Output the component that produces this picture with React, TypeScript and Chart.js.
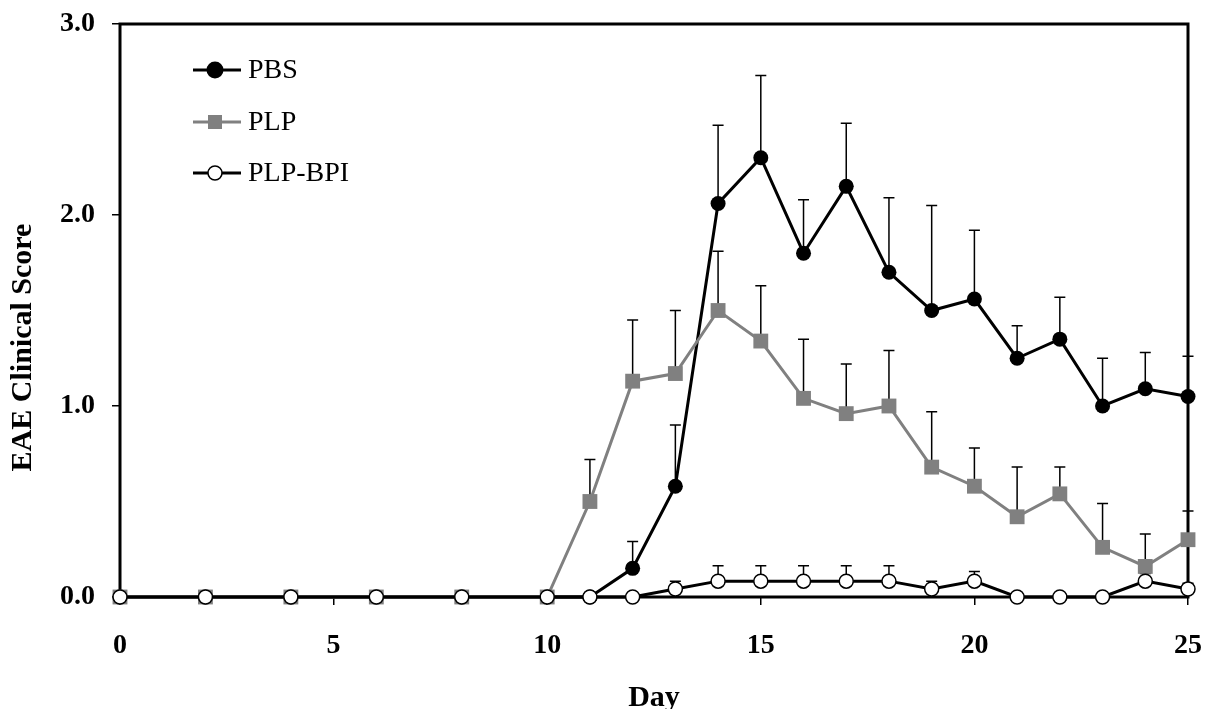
import React, { useEffect, useRef } from 'react';
import { Chart, registerables } from 'chart.js';

Chart.register(...registerables);

const days = [0, 2, 4, 6, 8, 10, 11, 12, 13, 14, 15, 16, 17, 18, 19, 20, 21, 22, 23, 24, 25];
const pbsMean = [0, 0, 0, 0, 0, 0, 0, 0.15, 0.58, 2.06, 2.30, 1.80, 2.15, 1.70, 1.50, 1.56, 1.25, 1.35, 1.00, 1.09, 1.05];
const pbsErr = [0, 0, 0, 0, 0, 0, 0, 0.14, 0.32, 0.41, 0.43, 0.28, 0.33, 0.39, 0.55, 0.36, 0.17, 0.22, 0.25, 0.19, 0.21];
const plpMean = [0, 0, 0, 0, 0, 0, 0.50, 1.13, 1.17, 1.50, 1.34, 1.04, 0.96, 1.00, 0.68, 0.58, 0.42, 0.54, 0.26, 0.16, 0.30];
const plpErr = [0, 0, 0, 0, 0, 0, 0.22, 0.32, 0.33, 0.31, 0.29, 0.31, 0.26, 0.29, 0.29, 0.20, 0.26, 0.14, 0.23, 0.17, 0.15];
const bpiMean = [0, 0, 0, 0, 0, 0, 0, 0, 0.042, 0.083, 0.083, 0.083, 0.083, 0.083, 0.042, 0.083, 0, 0, 0, 0.083, 0.042];
const bpiErr = [0, 0, 0, 0, 0, 0, 0, 0, 0.04, 0.08, 0.08, 0.08, 0.08, 0.08, 0.04, 0.05, 0, 0, 0, 0.04, 0.03];

const seriesLabels = ['PBS', 'PLP', 'PLP-BPI'];
const xTickValues = [0, 5, 10, 15, 20, 25];
const yTickValues = [0, 1, 2, 3];
const xTitle = 'Day';
const yTitle = 'EAE Clinical Score';

const FONT = "'Liberation Serif', 'Times New Roman', serif";
const GRAY = '#808080';

const toPoints = (vals: number[]) => days.map((d, i) => ({ x: d, y: vals[i] }));

const framePlugin = {
  id: 'frame',
  beforeDatasetsDraw(chart: any) {
    const { ctx, chartArea: a } = chart;
    ctx.save();
    ctx.strokeStyle = '#000';
    ctx.lineWidth = 3;
    ctx.strokeRect(a.left, a.top, a.right - a.left, a.bottom - a.top);
    ctx.restore();
  },
};

const yTitlePlugin = {
  id: 'yTitle',
  afterDraw(chart: any) {
    const { ctx, chartArea: a } = chart;
    ctx.save();
    ctx.translate(15, (a.top + a.bottom) / 2 + 37);
    ctx.rotate(-Math.PI / 2);
    ctx.fillStyle = '#000';
    ctx.font = `bold 30px ${FONT}`;
    ctx.textAlign = 'center';
    ctx.textBaseline = 'middle';
    ctx.fillText(yTitle, 0, 0);
    ctx.restore();
  },
};

const errorBarPlugin = {
  id: 'errorBars',
  beforeDatasetsDraw(chart: any) {
    const { ctx } = chart;
    const yScale = chart.scales.y;
    ctx.save();
    ctx.strokeStyle = '#000';
    ctx.lineWidth = 1.5;
    chart.data.datasets.forEach((ds: any, di: number) => {
      const errs: number[] = ds.errors;
      if (!errs) return;
      const meta = chart.getDatasetMeta(di);
      meta.data.forEach((pt: any, i: number) => {
        const e = errs[i];
        if (!e) return;
        const v = ds.data[i].y;
        const yTop = yScale.getPixelForValue(v + e);
        const yBase = pt.y;
        ctx.beginPath();
        ctx.moveTo(pt.x, yBase);
        ctx.lineTo(pt.x, yTop);
        ctx.moveTo(pt.x - 5.5, yTop);
        ctx.lineTo(pt.x + 5.5, yTop);
        ctx.stroke();
      });
    });
    ctx.restore();
  },
};

const legendPlugin = {
  id: 'insideLegend',
  afterDatasetsDraw(chart: any) {
    const { ctx, chartArea: a } = chart;
    const rows = [46, 98, 149];
    const order = [2, 1, 0]; // dataset indices for PBS, PLP, PLP-BPI
    ctx.save();
    order.forEach((di, r) => {
      const ds: any = chart.data.datasets[di];
      const y = a.top + rows[r];
      const x0 = a.left + 73;
      const x1 = a.left + 121;
      const xm = a.left + 95;
      ctx.strokeStyle = ds.borderColor;
      ctx.lineWidth = 3;
      ctx.beginPath();
      ctx.moveTo(x0, y);
      ctx.lineTo(x1, y);
      ctx.stroke();
      if (ds.pointStyle === 'rect') {
        ctx.fillStyle = ds.pointBackgroundColor;
        ctx.fillRect(xm - 7, y - 7, 14, 14);
      } else {
        ctx.beginPath();
        ctx.arc(xm, y, 7, 0, Math.PI * 2);
        ctx.fillStyle = ds.pointBackgroundColor;
        ctx.fill();
        ctx.lineWidth = ds.pointBorderWidth;
        ctx.strokeStyle = ds.pointBorderColor;
        ctx.stroke();
      }
      ctx.fillStyle = '#000';
      ctx.font = `28px ${FONT}`;
      ctx.textBaseline = 'middle';
      ctx.textAlign = 'left';
      ctx.fillText(ds.label, a.left + 128, y + 1);
    });
    ctx.restore();
  },
};

export default function App() {
  const ref = useRef<HTMLCanvasElement>(null);

  useEffect(() => {
    if (!ref.current) return;
    const chart = new Chart(ref.current, {
      type: 'line',
      data: {
        datasets: [
          {
            label: seriesLabels[2],
            data: toPoints(bpiMean),
            errors: bpiErr,
            borderColor: '#000',
            borderWidth: 3,
            pointStyle: 'circle',
            pointRadius: 7,
            pointBackgroundColor: '#fff',
            pointBorderColor: '#000',
            pointBorderWidth: 1.5,
            clip: false,
            order: 0,
          } as any,
          {
            label: seriesLabels[1],
            data: toPoints(plpMean),
            errors: plpErr,
            borderColor: GRAY,
            borderWidth: 3,
            pointStyle: 'rect',
            pointRadius: 10.5,
            pointBackgroundColor: GRAY,
            pointBorderColor: GRAY,
            pointBorderWidth: 0,
            clip: false,
            order: 1,
          } as any,
          {
            label: seriesLabels[0],
            data: toPoints(pbsMean),
            errors: pbsErr,
            borderColor: '#000',
            borderWidth: 3,
            pointStyle: 'circle',
            pointRadius: 7.5,
            pointBackgroundColor: '#000',
            pointBorderColor: '#000',
            pointBorderWidth: 0,
            clip: false,
            order: 2,
          } as any,
        ],
      },
      options: {
        animation: false,
        responsive: true,
        maintainAspectRatio: false,
        layout: { padding: { left: 0, right: 0, top: 0, bottom: 0 } },
        plugins: {
          legend: { display: false },
          tooltip: { enabled: false },
        },
        elements: { line: { tension: 0 } },
        scales: {
          x: {
            type: 'linear',
            min: 0,
            max: 25,
            afterBuildTicks: (s: any) => {
              s.ticks = xTickValues.map((v) => ({ value: v }));
            },
            afterFit: (s: any) => {
              s.height = 112;
              s.paddingLeft = 0;
              s.paddingRight = 13;
            },
            ticks: {
              autoSkip: false,
              maxRotation: 0,
              padding: 24,
              color: '#000',
              font: { family: FONT, size: 28, weight: 'bold' },
            },
            grid: {
              drawOnChartArea: false,
              drawTicks: true,
              tickLength: 8,
              color: '#000',
              lineWidth: 1.5,
            },
            border: { display: false },
            title: {
              display: true,
              text: xTitle,
              color: '#000',
              font: { family: FONT, size: 30, weight: 'bold', lineHeight: 1 },
              padding: { top: 0, bottom: -4 },
            },
          },
          y: {
            type: 'linear',
            min: 0,
            max: 3,
            afterBuildTicks: (s: any) => {
              s.ticks = yTickValues.map((v) => ({ value: v }));
            },
            afterFit: (s: any) => {
              s.width = 112;
              s.paddingTop = 16;
              s.paddingBottom = 0;
            },
            ticks: {
              autoSkip: false,
              padding: 17,
              color: '#000',
              font: { family: FONT, size: 28, weight: 'bold' },
              callback: (v: any) => Number(v).toFixed(1),
            },
            grid: {
              drawOnChartArea: false,
              drawTicks: true,
              tickLength: 8,
              color: '#000',
              lineWidth: 1.5,
            },
            border: { display: false },
            title: { display: false },
          },
        },
      },
      plugins: [framePlugin, errorBarPlugin, legendPlugin, yTitlePlugin],
    } as any);
    return () => chart.destroy();
  }, []);

  return (
    <div style={{ width: 1193, height: 701, position: 'relative' }}>
      <canvas ref={ref} />
    </div>
  );
}
